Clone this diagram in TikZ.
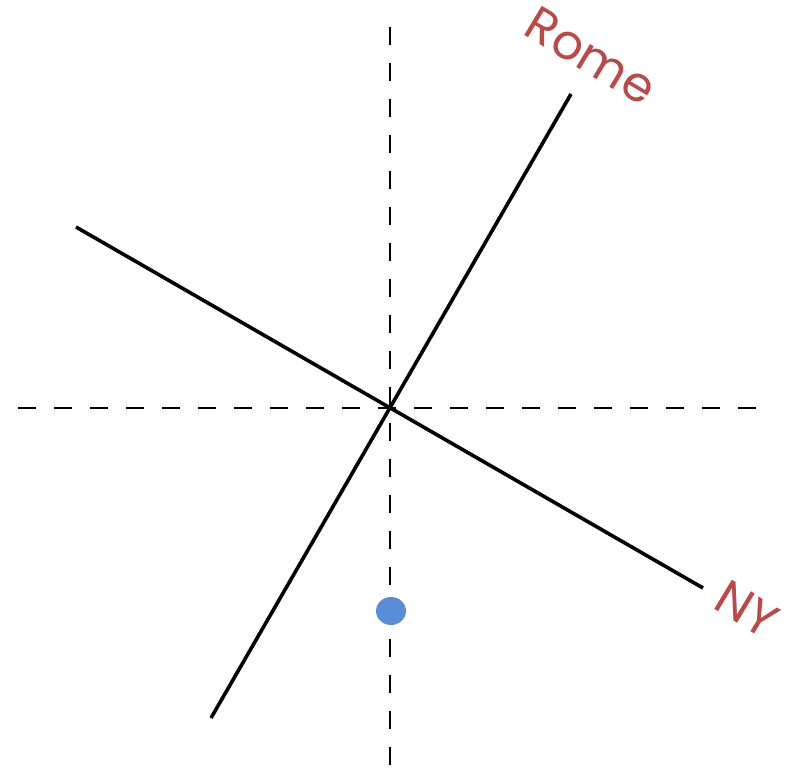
\documentclass[tikz,border=0pt]{standalone}
\usepackage{fontspec}
\setmainfont{Poppins}
\definecolor{cityred}{RGB}{184,74,74}
\definecolor{dotblue}{RGB}{91,141,214}
\begin{document}
\begin{tikzpicture}[x=1bp,y=-1bp,line width=3.6bp,every node/.style={font=\fontsize{49}{55}\selectfont,text=cityred,inner sep=0pt}]
\useasboundingbox (0,0) rectangle (795,769);
\coordinate (O) at (390,408);
\coordinate (RomeEnd) at (571,94);
\coordinate (RomeTail) at (211,718);
\coordinate (NYEnd) at (703,588);
\coordinate (NYTail) at (76,227);
\coordinate (AxTop) at (390,27);
\coordinate (AxBot) at (390,769);
\coordinate (AxLeft) at (18,408);
\coordinate (AxRight) at (762,408);
\draw[line width=2.3bp,dash pattern=on 18bp off 18bp] (AxTop) -- (AxBot);
\draw[line width=2.3bp,dash pattern=on 18bp off 18bp] (AxLeft) -- (AxRight);
\draw (RomeTail) -- (RomeEnd);
\draw (NYTail) -- (NYEnd);
\fill[dotblue] (391,611) ellipse[x radius=15,y radius=14];
\node[rotate=-31] (rome) at (591,56) {Rome};
\node[rotate=-31] (ny) at (747,609) {NY};
\end{tikzpicture}
\end{document}
